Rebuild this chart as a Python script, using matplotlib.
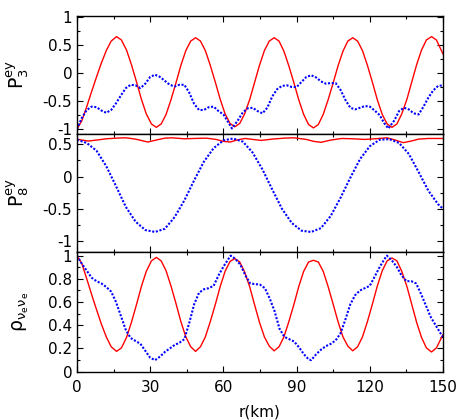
import matplotlib
matplotlib.use("Agg")
import matplotlib.pyplot as plt
from matplotlib.ticker import MultipleLocator

# r grid (km) for the solid red curves
r_red = [0, 2.0, 4.0, 6.0, 8.0, 10.0, 12.0, 14.0, 16.2,
         18.2, 20.3, 22.3, 24.4, 26.4, 28.4, 30.5, 32.5,
         34.5, 36.5, 38.5, 40.6, 42.6, 44.6, 46.6, 48.6,
         50.6, 52.6, 54.6, 56.7, 58.7, 60.7, 62.7, 64.7,
         66.7, 68.7, 70.8, 72.8, 74.8, 76.8, 78.8, 80.8,
         82.8, 84.8, 86.8, 88.9, 90.9, 92.9, 94.9, 96.9,
         98.9, 100.9, 102.9, 105.0, 107.0, 109.0, 111.0, 113.0,
         115.0, 117.0, 119.0, 121.1, 123.1, 125.1, 127.1, 129.1,
         131.1, 133.1, 135.2, 137.2, 139.2, 141.2, 143.2, 145.3,
         147.3, 150.0]

p3_red = [-1.0, -0.85, -0.60, -0.33, -0.07, 0.18, 0.40, 0.57, 0.65,
          0.59, 0.41, 0.15, -0.16, -0.47, -0.73, -0.91, -0.97,
          -0.91, -0.74, -0.48, -0.17, 0.14, 0.40, 0.57, 0.63,
          0.57, 0.40, 0.14, -0.165, -0.47, -0.73, -0.90, -0.96,
          -0.90, -0.73, -0.47, -0.165, 0.14, 0.40, 0.57, 0.63,
          0.57, 0.39, 0.13, -0.175, -0.48, -0.74, -0.92, -0.98,
          -0.92, -0.74, -0.48, -0.175, 0.13, 0.39, 0.57, 0.63,
          0.57, 0.40, 0.14, -0.17, -0.48, -0.74, -0.91, -0.97,
          -0.91, -0.73, -0.47, -0.16, 0.15, 0.41, 0.59, 0.65,
          0.59, 0.34]

rho_red = [1.0, 0.93, 0.80, 0.665, 0.535, 0.41, 0.30, 0.215, 0.175,
           0.205, 0.295, 0.425, 0.58, 0.735, 0.865, 0.955, 0.985,
           0.955, 0.87, 0.74, 0.585, 0.43, 0.30, 0.215, 0.175,
           0.215, 0.30, 0.43, 0.58, 0.735, 0.865, 0.95, 0.975,
           0.945, 0.86, 0.73, 0.575, 0.425, 0.30, 0.22, 0.18,
           0.215, 0.30, 0.43, 0.58, 0.735, 0.865, 0.945, 0.96,
           0.945, 0.865, 0.735, 0.58, 0.43, 0.30, 0.22, 0.18,
           0.215, 0.30, 0.43, 0.585, 0.74, 0.87, 0.955, 0.98,
           0.955, 0.865, 0.735, 0.58, 0.425, 0.295, 0.205, 0.17,
           0.205, 0.32]

# P3 blue (dotted)
r_p3_blue = [0, 2, 4, 6, 8, 10, 12, 14, 16, 18, 20, 22, 24, 26, 28, 30, 32,
             34, 36, 38, 40, 42, 44, 46, 48, 50, 52, 54, 56, 58, 60, 62, 63.5,
             66, 68, 70, 72, 74, 76, 78, 80, 82, 84, 86, 88, 90, 92, 94, 96,
             98, 100, 102, 104, 106, 108, 110, 112, 114, 116, 118, 120, 122, 124, 126, 127.6,
             130, 132, 134, 136, 138, 140, 142, 144, 146, 148, 150]
p3_blue = [-1.0, -0.80, -0.66, -0.60, -0.61, -0.67, -0.71, -0.66, -0.54, -0.40, -0.27, -0.21, -0.22, -0.27, -0.19, -0.07, -0.03,
           -0.07, -0.14, -0.21, -0.24, -0.21, -0.21, -0.35, -0.55, -0.66, -0.66, -0.61, -0.60, -0.68, -0.74, -0.88, -0.99,
           -0.84, -0.70, -0.63, -0.62, -0.68, -0.72, -0.62, -0.42, -0.29, -0.23, -0.22, -0.25, -0.25, -0.16, -0.07, -0.04,
           -0.08, -0.15, -0.19, -0.18, -0.18, -0.30, -0.48, -0.62, -0.65, -0.62, -0.59, -0.60, -0.67, -0.75, -0.90, -0.99,
           -0.85, -0.68, -0.62, -0.65, -0.72, -0.74, -0.60, -0.44, -0.31, -0.23, -0.22]

# P8 red (solid) and blue (dotted)
r_p8_red = [0, 2, 4.6, 8, 12, 16, 20, 24, 29, 33, 36, 39, 44, 48, 53, 57, 60, 62.7,
            66, 69, 72, 75.5, 80, 85, 89, 94, 97, 100, 104, 108.5, 113, 118, 122, 127,
            130, 133.7, 137, 140, 144, 150]
p8_red = [0.58, 0.565, 0.55, 0.565, 0.585, 0.595, 0.60, 0.58, 0.535, 0.57, 0.595, 0.60, 0.585, 0.59, 0.595, 0.575, 0.545, 0.535,
          0.57, 0.59, 0.575, 0.56, 0.58, 0.595, 0.60, 0.575, 0.545, 0.53, 0.565, 0.59, 0.585, 0.575, 0.585, 0.60,
          0.57, 0.525, 0.55, 0.58, 0.59, 0.59]

r_p8_blue = [0, 4, 8, 12, 16, 20, 24, 28, 32, 36, 40, 44, 48, 52, 56, 60, 64, 68, 72, 76,
             80, 84, 88, 92, 96, 100, 104, 108, 112, 116, 120, 124, 128, 132, 136, 140, 144, 148, 150]
p8_blue = [0.57, 0.52, 0.40, 0.16, -0.15, -0.47, -0.70, -0.83, -0.86, -0.81, -0.63, -0.37, -0.06, 0.23, 0.44, 0.56, 0.59, 0.54, 0.37, 0.11,
           -0.20, -0.50, -0.72, -0.84, -0.86, -0.80, -0.61, -0.33, -0.02, 0.27, 0.47, 0.57, 0.58, 0.52, 0.35, 0.07, -0.22, -0.43, -0.50]

# rho_ee blue (dotted)
r_rho_blue = [0, 2, 4, 6, 8, 10, 12, 14, 16, 18, 20, 22, 24, 26, 28, 30, 32,
              34, 36, 38, 40, 42, 44, 46, 48, 50, 52, 54, 56, 58, 60, 62, 63,
              65, 67, 69, 71, 73, 75, 77, 79, 81, 83, 85, 87, 89, 91, 93, 95, 96,
              98, 100, 102, 104, 106, 108, 110, 112, 114, 116, 118, 120, 122, 124, 126, 127,
              129, 131, 133, 135, 137, 139, 141, 143, 145, 147, 149, 150]
rho_blue = [1.0, 0.93, 0.87, 0.81, 0.78, 0.76, 0.73, 0.69, 0.60, 0.48, 0.36, 0.29, 0.265, 0.24, 0.18, 0.12, 0.10,
            0.13, 0.17, 0.20, 0.23, 0.25, 0.28, 0.42, 0.58, 0.68, 0.71, 0.72, 0.74, 0.83, 0.905, 0.97, 1.0,
            0.97, 0.92, 0.83, 0.76, 0.755, 0.75, 0.72, 0.63, 0.52, 0.37, 0.30, 0.28, 0.26, 0.21, 0.15, 0.105, 0.10,
            0.15, 0.19, 0.22, 0.24, 0.27, 0.33, 0.45, 0.58, 0.66, 0.70, 0.72, 0.74, 0.82, 0.90, 0.97, 1.0,
            0.96, 0.905, 0.83, 0.78, 0.78, 0.76, 0.67, 0.57, 0.47, 0.40, 0.33, 0.30]

RED = "#ff0000"
BLUE = "#0000ff"
dot = (0, (1, 0.8))

plt.rcParams['font.family'] = ['DejaVu Sans']
plt.rcParams['font.size'] = 11

fig = plt.figure(figsize=(4.63, 4.2), dpi=100)
W, H = 463.0, 420.0
x0, x1 = 77.0, 443.0
bounds = [(15.5, 133.5), (133.5, 251.7), (251.7, 371.7)]
axes = []
for top, bot in bounds:
    ax = fig.add_axes([x0 / W, 1 - bot / H, (x1 - x0) / W, (bot - top) / H])
    axes.append(ax)
ax1, ax2, ax3 = axes

ax1.plot(r_red, p3_red, color=RED, lw=1.0)
ax1.plot(r_p3_blue, p3_blue, color=BLUE, lw=1.5, linestyle=dot)
ax1.set_ylim(-1.08, 1.027)
ax1.yaxis.set_minor_locator(MultipleLocator(0.25))
ax1.set_yticks([-1, -0.5, 0, 0.5, 1])
ax1.set_yticklabels(['-1', '-0.5', '0', '0.5', '1'])
ax1.set_ylabel(r'$\mathregular{P_3^{ey}}$', fontsize=13.5)

ax2.plot(r_p8_red, p8_red, color=RED, lw=1.0)
ax2.plot(r_p8_blue, p8_blue, color=BLUE, lw=1.5, linestyle=dot)
ax2.set_ylim(-1.166, 0.667)
ax2.yaxis.set_minor_locator(MultipleLocator(0.25))
ax2.set_yticks([-1, -0.5, 0, 0.5])
ax2.set_yticklabels(['-1', '-0.5', '0', '0.5'])
ax2.set_ylabel(r'$\mathregular{P_8^{ey}}$', fontsize=13.5)

ax3.plot(r_red, rho_red, color=RED, lw=1.0)
ax3.plot(r_rho_blue, rho_blue, color=BLUE, lw=1.5, linestyle=dot)
ax3.set_ylim(0, 1.034)
ax3.set_yticks([0, 0.2, 0.4, 0.6, 0.8, 1])
ax3.set_yticklabels(['0', '0.2', '0.4', '0.6', '0.8', '1'])
ax3.yaxis.set_minor_locator(MultipleLocator(0.1))
ax3.set_ylabel(r'$\mathregular{\rho_{\nu_e\nu_e}}$', fontsize=13.5)
ax3.set_xlabel('r(km)', fontsize=11)

for ax in axes:
    ax.set_xlim(0, 150)
    ax.xaxis.set_major_locator(MultipleLocator(30))
    ax.xaxis.set_minor_locator(MultipleLocator(15))
    ax.tick_params(which='both', direction='in', top=True, right=True, width=0.8)
    ax.tick_params(which='major', length=4.5)
    ax.tick_params(which='minor', length=2.5)
    ax.tick_params(axis='y', pad=3.5)
    ax.tick_params(axis='x', pad=6)
    ax.yaxis.set_label_coords(-0.125, 0.5)
    for s in ax.spines.values():
        s.set_linewidth(1.0)

ax1.tick_params(labelbottom=False)
ax2.tick_params(labelbottom=False)
ax3.xaxis.set_label_coords(0.5, -0.27)

fig.savefig('out.png', dpi=100)
